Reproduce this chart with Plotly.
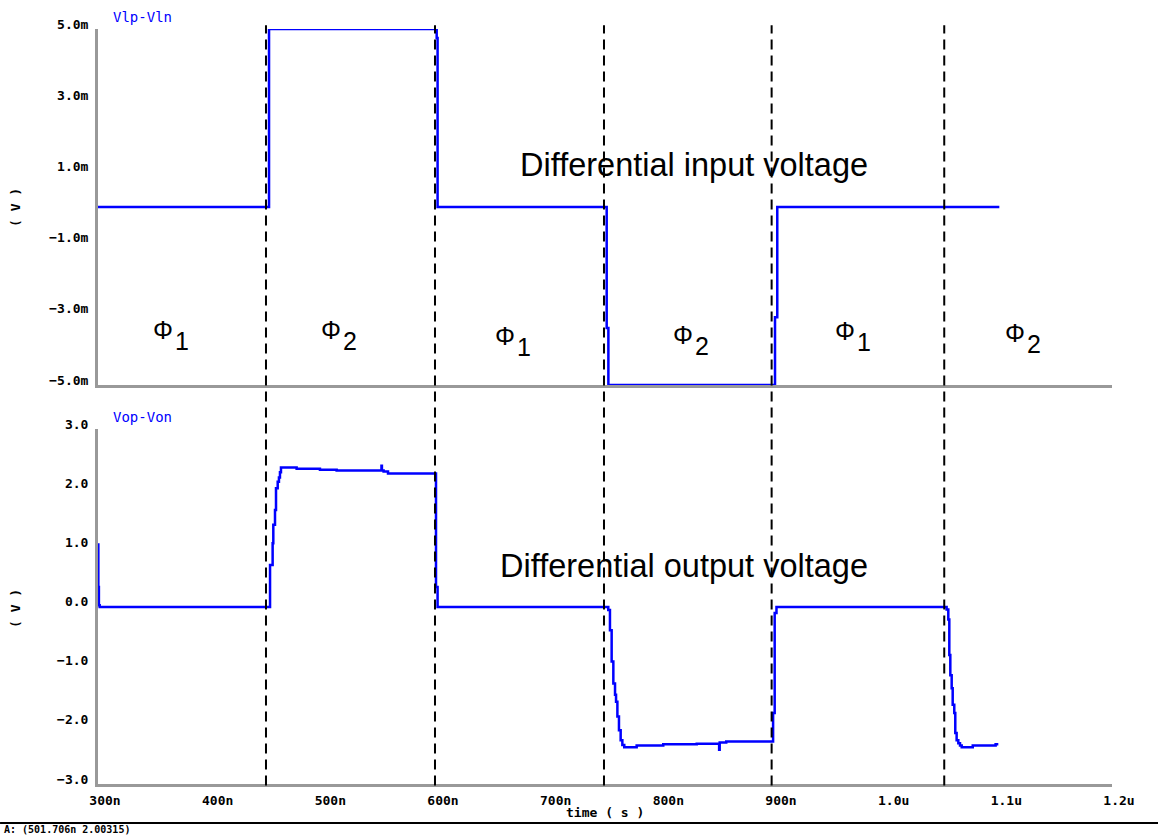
import plotly.graph_objects as go

# ---------------- data (time in ns) ----------------
# differential input voltage Vlp-Vln (mV), step-wise samples
in_t = [300.0, 451.8, 600.6, 601.4, 751.5, 753.0, 900.9, 902.9, 1100.0]
in_v = [0.0, 5.0, 4.75, 0.0, -3.4, -5.0, -3.1, 0.0, 0.0]

# differential output voltage Vop-Von (V), step-wise samples
out_t = [300.0, 300.3, 300.8, 301.5,
         452.7, 455.0, 455.6, 457.1, 458.0, 459.5, 460.6, 461.5, 462.4,
         476.3, 497.0, 511.8, 551.6, 552.0, 553.5, 557.4,
         600.0, 601.4,
         752.9, 754.4, 755.9, 757.4, 758.9, 759.8, 761.0, 762.4, 763.9, 765.4, 767.1,
         778.1, 801.7, 831.4, 851.3, 851.8, 857.6,
         899.2, 900.6, 902.2,
         1053.2, 1054.7, 1055.6, 1056.5, 1057.7, 1058.6, 1060.0, 1060.9, 1062.1, 1063.6, 1065.1, 1066.6,
         1076.4, 1096.7, 1099.1]
out_v = [1.05, 0.33, 0.02, -0.01,
         0.70, 1.07, 1.38, 1.63, 2.00, 2.11, 2.18, 2.27, 2.35,
         2.33, 2.31, 2.30, 2.38, 2.30, 2.28, 2.25,
         0.33, -0.01,
         -0.06, -0.40, -0.93, -1.30, -1.49, -1.61, -1.86, -2.09, -2.26, -2.34, -2.38,
         -2.35, -2.33, -2.32, -2.42, -2.30, -2.28,
         -1.80, -0.11, -0.01,
         -0.05, -0.22, -0.82, -1.16, -1.38, -1.66, -1.80, -2.14, -2.26, -2.31, -2.35, -2.38,
         -2.35, -2.33, -2.33]

# phase boundaries (ns)
phase_edges = [449.1, 599.1, 749.1, 897.9, 1051.1]

# phase labels: name, subscript, time (ns), level on input axis (mV)
phase_names = ["Φ", "Φ", "Φ", "Φ", "Φ", "Φ"]
phase_subs = ["1", "2", "1", "2", "1", "2"]
phase_t = [357.7, 506.8, 661.2, 819.2, 963.0, 1113.9]
phase_y = [-3.46, -3.46, -3.62, -3.60, -3.48, -3.54]

# axis ticks
x_ticks = [300, 400, 500, 600, 700, 800, 900, 1000, 1100, 1200]
x_ticktext = ["300n", "400n", "500n", "600n", "700n", "800n", "900n", "1.0u", "1.1u", "1.2u"]
y1_ticks = [-5, -3, -1, 1, 3, 5]
y1_ticktext = ["−5.0m", "−3.0m", "−1.0m", "1.0m", "3.0m", "5.0m"]
y2_ticks = [-3, -2, -1, 0, 1, 2, 3]
y2_ticktext = ["−3.0", "−2.0", "−1.0", "0.0", "1.0", "2.0", "3.0"]

# ---------------- figure ----------------
BLUE = "#0000FF"
AXC = "#999999"
MONO = "DejaVu Sans Mono"
SANS = "Liberation Sans, Arial, sans-serif"

fig = go.Figure()
fig.add_trace(go.Scatter(x=in_t, y=in_v, mode="lines", line=dict(color=BLUE, width=2.5, shape="hv"),
                         xaxis="x", yaxis="y", showlegend=False, hoverinfo="skip"))
fig.add_trace(go.Scatter(x=out_t, y=out_v, mode="lines", line=dict(color=BLUE, width=2.5, shape="hv"),
                         xaxis="x2", yaxis="y2", showlegend=False, hoverinfo="skip"))

tickfont = dict(family=MONO, size=13, color="black", weight="bold")

fig.update_layout(
    width=1158, height=838,
    margin=dict(l=98, r=46, t=29, b=54),
    paper_bgcolor="white", plot_bgcolor="white",
    showlegend=False,
    xaxis=dict(domain=[0, 1], anchor="y", range=[300, 1200], showticklabels=False, ticks="",
               showline=True, linecolor=AXC, linewidth=3, showgrid=False, zeroline=False),
    yaxis=dict(domain=[0.5285, 1], anchor="x", range=[-5, 5], tickvals=y1_ticks, ticktext=y1_ticktext,
               ticks="", showline=True, linecolor=AXC, linewidth=3, showgrid=False, zeroline=False,
               tickfont=tickfont, ticklabelstandoff=4, ticklabelshift=-5),
    xaxis2=dict(domain=[0, 1], anchor="y2", range=[300, 1200], tickvals=x_ticks, ticktext=x_ticktext,
                ticks="", showline=True, linecolor=AXC, linewidth=3, showgrid=False, zeroline=False,
                tickfont=tickfont, ticklabelstandoff=2, ticklabelshift=7),
    yaxis2=dict(domain=[0, 0.4702], anchor="x2", range=[-3, 3], tickvals=y2_ticks, ticktext=y2_ticktext,
                ticks="", showline=True, linecolor=AXC, linewidth=3, showgrid=False, zeroline=False,
                tickfont=tickfont, ticklabelstandoff=4, ticklabelshift=-5),
)

# phase boundary dashed lines across both panels
for t in phase_edges:
    fig.add_shape(type="line", xref="x", yref="paper", x0=t, x1=t, y0=-0.002, y1=1.005,
                  line=dict(color="black", width=2, dash="10px,6px"), layer="above")

# bottom status line
fig.add_shape(type="line", xref="paper", yref="paper", x0=-0.0966, x1=1.0454, y0=-0.0517, y1=-0.0517,
              line=dict(color="black", width=2))

ann = []
ann.append(dict(text="Vlp-Vln", xref="paper", yref="paper", x=0.0128, y=1.0159, xanchor="left",
                yanchor="middle", showarrow=False, font=dict(family=MONO, size=14, color=BLUE)))
ann.append(dict(text="Vop-Von", xref="paper", yref="paper", x=0.0128, y=0.4861, xanchor="left",
                yanchor="middle", showarrow=False, font=dict(family=MONO, size=14, color=BLUE)))
for yy in (0.7642, 0.2331):
    ann.append(dict(text="( V )", xref="paper", yref="paper", x=-0.0819, y=yy, textangle=-90,
                    xanchor="center", yanchor="middle", showarrow=False,
                    font=dict(family=MONO, size=13, color="black", weight="bold")))
ann.append(dict(text="time ( s )", xref="paper", yref="paper", x=0.5, y=-0.0384, xanchor="center",
                yanchor="middle", showarrow=False, font=dict(family=MONO, size=13, color="black", weight="bold")))
ann.append(dict(text="A: (501.706n 2.00315)", xref="paper", yref="paper", x=-0.0946, y=-0.0609,
                xanchor="left", yanchor="middle", showarrow=False,
                font=dict(family=MONO, size=10, color="black", weight="bold")))
ann.append(dict(text="Differential input voltage", xref="x", yref="y", x=985.2, y=1.18, xanchor="right",
                yanchor="middle", showarrow=False, font=dict(family=SANS, size=32.5, color="black")))
ann.append(dict(text="Differential output voltage", xref="x2", yref="y2", x=985.2, y=0.68, xanchor="right",
                yanchor="middle", showarrow=False, font=dict(family=SANS, size=32.5, color="black")))
for name, sub, t, yv in zip(phase_names, phase_subs, phase_t, phase_y):
    ann.append(dict(text=name, xref="x", yref="y", x=t, y=yv, xanchor="center", yanchor="middle",
                    showarrow=False, font=dict(family=SANS, size=25, color="black")))
    ann.append(dict(text=sub, xref="x", yref="y", x=t, y=yv, xanchor="center", yanchor="middle",
                    xshift=19, yshift=-11, showarrow=False, font=dict(family=SANS, size=25, color="black")))
fig.update_layout(annotations=ann)

fig.write_html("out.html")
